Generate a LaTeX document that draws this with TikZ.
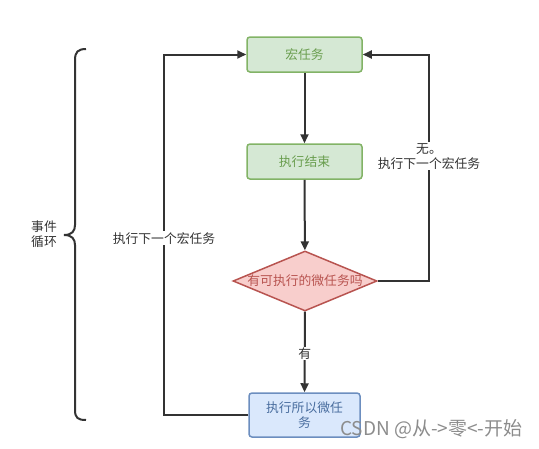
\documentclass[tikz,border=0pt]{standalone}
\usepackage{fontspec}
\newfontfamily\cjk{Noto Sans CJK SC}
\usetikzlibrary{arrows.meta,shapes.geometric}
\definecolor{gfill}{HTML}{D5E8D4}
\definecolor{gline}{HTML}{82B366}
\definecolor{gtext}{HTML}{6A9E4F}
\definecolor{rfill}{HTML}{F8CECC}
\definecolor{rline}{HTML}{B85450}
\definecolor{bfill}{HTML}{DAE8FC}
\definecolor{bline}{HTML}{6C8EBF}
\definecolor{btext}{HTML}{4A6E9F}
\definecolor{ink}{HTML}{333333}
\tikzset{
  every node/.style={font=\cjk\fontsize{12.8}{15}\selectfont},
  greenbox/.style={draw=gline,fill=gfill,text=gtext,rounded corners=3pt,line width=1.5pt,minimum width=115pt,minimum height=35pt,inner sep=0pt},
  bluebox/.style={draw=bline,fill=bfill,text=btext,rounded corners=3pt,line width=1.5pt,minimum width=111pt,minimum height=44pt,inner sep=0pt,align=center},
  decide/.style={diamond,aspect=2.4,draw=rline,fill=rfill,text=rline,line width=1.5pt,minimum width=144pt,minimum height=60pt,inner sep=0pt},
  flow/.style={draw=ink,line width=2pt,-{Triangle[length=9pt,width=8pt]}},
  lbl/.style={fill=white,text=ink,inner sep=1pt,align=center}
}
\begin{document}
\begin{tikzpicture}[x=1pt,y=-1pt]
\useasboundingbox (0,0) rectangle (539,448);
\node[greenbox] (macro) at (304.5,54.5) {宏任务};
\node[greenbox] (done) at (304.5,161.5) {执行结束};
\node[decide] (q) at (305,281) {有可执行的微任务吗};
\node[bluebox] (micro) at (304.5,415) {执行所以微任\\务};
\coordinate (lb) at (164,415);
\coordinate (lt) at (164,54.5);
\coordinate (rb) at (429,281);
\coordinate (rt) at (429,54.5);
\draw[flow] (macro) -- (done);
\draw[flow] (done) -- (q);
\draw[flow] (q) -- node[lbl,pos=0.52] (yes) {有} (micro);
\draw[flow] (micro.west) -- (lb) -- node[lbl,pos=0.49] (nextl) {执行下一个宏任务} (lt) -- (macro.west);
\draw[flow] (q.east) -- (rb) -- node[lbl,pos=0.55] (nextr) {无。\\执行下一个宏任务} (rt) -- (macro.east);
\draw[ink,line width=2pt] (86,49) .. controls (78,49) and (75,52) .. (75,60) -- (75,225)
  .. controls (75,231) and (72,235) .. (64,235)
  .. controls (72,235) and (75,239) .. (75,245) -- (75,410)
  .. controls (75,418) and (78,420) .. (86,420);
\node[text=ink,align=center] (loop) at (44,234) {事件\\循环};
\node[text=black!45,font=\cjk\fontsize{19}{22}\selectfont,anchor=east] (wm) at (526,429) {CSDN @从->零<-开始};
\end{tikzpicture}
\end{document}
